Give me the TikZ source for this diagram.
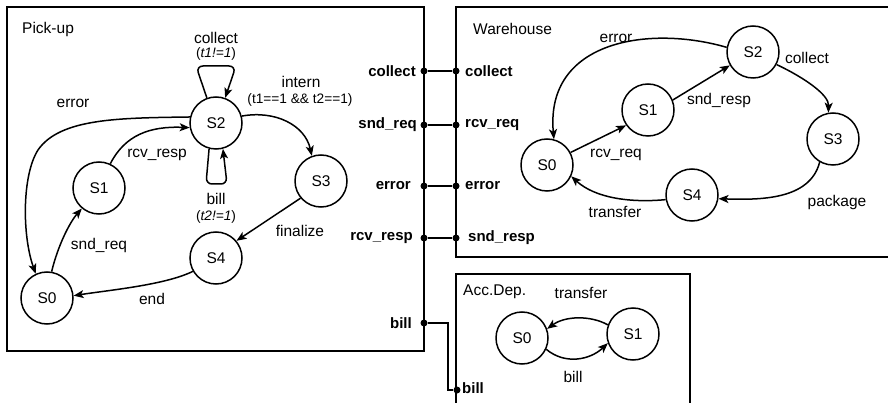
\documentclass[tikz,border=0pt]{standalone}
\usepackage{fontspec}
\setmainfont{Liberation Sans}
\usetikzlibrary{arrows.meta}
\def\guard#1{(\textit{#1})}
\tikzset{
	state/.style={draw, circle, line width=1.5pt, minimum size=52pt, inner sep=0pt, font=\fontsize{15.5}{18}\selectfont},
	trans/.style={line width=1.5pt, -{Stealth[length=10pt,width=8pt,inset=2.5pt]}},
	lbl/.style={inner sep=0pt, font=\fontsize{15.5}{18}\selectfont},
	cond/.style={inner sep=0pt, font=\fontsize{13.7}{16}\selectfont},
	portlbl/.style={inner sep=0pt, font=\bfseries\fontsize{15}{18}\selectfont},
	portdot/.style={fill=black, circle, inner sep=0pt, minimum size=7pt},
	wire/.style={line width=1.5pt},
	box/.style={line width=1.5pt}
}

\begin{document}
\begin{tikzpicture}[x=1pt, y=-1pt]
			%%%%% START %%%%%
			\useasboundingbox (0,0) rectangle (888,403);
			
			\draw[box] (7,7) rectangle (424,351);
			\draw[box] (888,7) -- (456,7) -- (456,257) -- (888,257);
			\draw[box] (456,403) -- (456,274) -- (690,274) -- (690,403);
			
			\node[lbl, anchor=west] (pTitle) at (22,29) {Pick-up};
			\node[lbl, anchor=west] (wTitle) at (473,29) {Warehouse};
			\node[lbl, anchor=west] (aTitle) at (463,292) {Acc.Dep.};
			
			% pick-up
			\node[state] (pS0) at (47,298) {S0};
			\node[state] (pS1) at (99,188) {S1};
			\node[state] (pS2) at (216,123) {S2};
			\node[state] (pS3) at (321,181) {S3};
			\node[state] (pS4) at (216,258) {S4};
			
			\draw[trans, rounded corners=7pt] (pS2.110) -- (196,66) -- (236,66) -- (pS2.70);
			\draw[trans, rounded corners=6pt] (pS2.-105) -- (206,184) -- (227,184) -- (pS2.-75);
			\draw[trans] (pS2.15) .. controls (275,110) and (305,125) .. (pS3.110);
			\draw[trans] (pS3.-140) -- (pS4.40);
			\draw[trans] (pS4.-150) .. controls (165,285) and (110,290) .. (pS0.5);
			\draw[trans] (pS0.80) .. controls (58,245) and (70,222) .. (pS1.-130);
			\draw[trans] (pS1.65) .. controls (125,135) and (150,126) .. (pS2.190);
			\draw[trans] (pS2.167) .. controls (120,118) and (60,118) .. (38,150) .. controls (22,175) and (22,235) .. (pS0.115);
			
			\node[lbl] (pCollect) at (216,38) {collect};
			\node[cond] (pCollectG) at (216,54) {\guard{t1!=1}};
			\node[lbl] (pBill) at (216,199) {bill};
			\node[cond] (pBillG) at (216,217) {\guard{t2!=1}};
			\node[lbl] (pIntern) at (301,82) {intern};
			\node[cond] (pInternG) at (300,100) {(t1==1 \&\& t2==1)};
			\node[lbl] (pFinalize) at (300,231) {finalize};
			\node[lbl] (pEnd) at (152,299) {end};
			\node[lbl] (pSndReq) at (99,245) {snd\_req};
			\node[lbl] (pRcvResp) at (157,155) {rcv\_resp};
			\node[lbl] (pError) at (73,103) {error};
			
			% warehouse
			\node[state] (wS0) at (547,165) {S0};
			\node[state] (wS1) at (648,110) {S1};
			\node[state] (wS2) at (753,52) {S2};
			\node[state] (wS3) at (833,139) {S3};
			\node[state] (wS4) at (692,195) {S4};
			
			\draw[trans] (wS0.28) -- (wS1.-145);
			\draw[trans] (wS1.22) -- (wS2.-150);
			\draw[trans] (wS2.-28) .. controls (805,78) and (829,95) .. (wS3.100);
			\draw[trans] (wS3.-120) .. controls (810,200) and (760,200) .. (wS4.-8);
			\draw[trans] (wS4.190) .. controls (630,203) and (595,198) .. (wS0.-25);
			\draw[trans] (wS2.170) .. controls (650,25) and (545,40) .. (wS0.75);
			
			\node[lbl] (wError) at (616,38) {error};
			\node[lbl] (wSndResp) at (719,100) {snd\_resp};
			\node[lbl] (wCollect) at (807,58) {collect};
			\node[lbl] (wRcvReq) at (616,155) {rcv\_req};
			\node[lbl] (wPackage) at (837,202) {package};
			\node[lbl] (wTransfer) at (615,212) {transfer};
			
			% acc.dep.
			\node[state] (aS0) at (522,338) {S0};
			\node[state] (aS1) at (633,334) {S1};
			
			\draw[trans] (aS1.160) .. controls (590,315) and (565,316) .. (aS0.20);
			\draw[trans] (aS0.-25) .. controls (565,365) and (590,360) .. (aS1.-160);
			
			\node[lbl] (aTransfer) at (581,293) {transfer};
			\node[lbl] (aBill) at (573,377) {bill};
			
			% ports
			\node[portdot] (ppCollect) at (424,71) {};
			\node[portdot] (ppSndReq) at (424,125) {};
			\node[portdot] (ppError) at (424,186) {};
			\node[portdot] (ppRcvResp) at (424,238) {};
			\node[portdot] (ppBill) at (424,323) {};
			\node[portdot] (wpCollect) at (456,71) {};
			\node[portdot] (wpRcvReq) at (456,125) {};
			\node[portdot] (wpError) at (456,186) {};
			\node[portdot] (wpSndResp) at (456,238) {};
			\node[portdot] (apBill) at (457,390) {};
			
			\draw[wire] (ppCollect) -- (wpCollect);
			\draw[wire] (ppSndReq) -- (wpRcvReq);
			\draw[wire] (ppError) -- (wpError);
			\draw[wire] (ppRcvResp) -- (wpSndResp);
			\draw[wire] (ppBill) -- ++(24,0) |- (apBill);
			
			\node[portlbl, anchor=east] (ppCollectL) at (416,71) {collect};
			\node[portlbl, anchor=east] (ppSndReqL) at (417,125) {snd\_req};
			\node[portlbl, anchor=east] (ppErrorL) at (411,186) {error};
			\node[portlbl, anchor=east] (ppRcvRespL) at (413,238) {rcv\_resp};
			\node[portlbl, anchor=east] (ppBillL) at (412,323) {bill};
			\node[portlbl, anchor=west] (wpCollectL) at (465,71) {collect};
			\node[portlbl, anchor=west] (wpRcvReqL) at (465,125) {rcv\_req};
			\node[portlbl, anchor=west] (wpErrorL) at (465,186) {error};
			\node[portlbl, anchor=west] (wpSndRespL) at (468,238) {snd\_resp};
			\node[portlbl, anchor=west] (apBillL) at (462,388) {bill};
			
			%%%%% END %%%%%
\end{tikzpicture}
\end{document}
